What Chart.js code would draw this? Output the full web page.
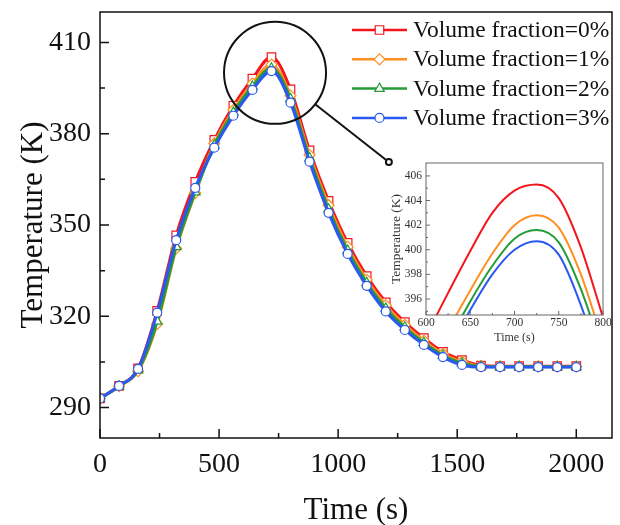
<!DOCTYPE html>
<html><head><meta charset="utf-8">
<script src="https://cdn.jsdelivr.net/npm/chart.js@4.4.1/dist/chart.umd.min.js"></script>
<style>
html,body{margin:0;padding:0;background:#fff;}
#wrap{position:relative;width:620px;height:525px;overflow:hidden;}
#main{position:absolute;left:0;top:0;}
#inset{position:absolute;left:380px;top:150px;}
</style></head><body>
<div id="wrap"><canvas id="main" width="620" height="525"></canvas><canvas id="inset" width="235" height="200"></canvas></div>
<script>
// ---- data ----
const seriesNames = ['Volume fraction=0%','Volume fraction=1%','Volume fraction=2%','Volume fraction=3%'];
const times = [0,80,160,240,320,400,480,560,640,720,800,880,960,1040,1120,1200,1280,1360,1440,1520,1600,1680,1760,1840,1920,2000];
const vf0 = [293.0,297.1,302.9,321.8,346.6,364.2,378.0,389.2,398.1,405.2,394.6,374.5,357.9,344.1,333.2,324.6,318.1,312.8,308.3,305.6,303.8,303.6,303.6,303.6,303.6,303.6];
const vf1 = [293.0,297.0,302.0,317.5,342.3,360.5,376.8,387.8,396.5,402.7,392.5,373.0,356.5,342.8,332.0,323.6,317.2,312.0,307.7,305.1,303.6,303.5,303.5,303.5,303.5,303.5];
const vf2 = [293.0,297.0,302.3,318.3,342.8,360.8,376.2,387.0,395.5,401.5,391.5,372.0,355.2,341.6,331.0,322.6,316.4,311.3,307.1,304.6,303.5,303.4,303.4,303.4,303.4,303.4];
const vf3 = [293.0,297.1,302.7,321.2,345.0,362.2,375.4,385.9,394.4,400.6,390.2,370.8,354.0,340.5,330.0,321.6,315.5,310.6,306.6,304.0,303.3,303.3,303.3,303.3,303.3,303.3];
const xTicks = [0,500,1000,1500,2000];
const xMinor = [250,750,1250,1750];
const yTicks = [290,320,350,380,410];
const yMinor = [305,335,365,395];

const insetTimes = [600,625,650,675,700,725,750,775,800];
const insetVf0 = [393.0,396.5,399.9,403.0,404.8,405.3,404.2,400.2,394.5];
const insetVf1 = [390.2,393.5,396.7,399.7,402.0,402.8,401.8,398.0,392.5];
const insetVf2 = [389.2,392.5,395.8,398.7,400.9,401.6,400.6,396.8,391.5];
const insetVf3 = [388.5,391.8,395.1,398.0,400.0,400.7,399.6,395.5,390.0];
const insetXTicks = [600,650,700,750,800];
const insetXMinor = [625,675,725,775];
const insetYTicks = [396,398,400,402,404,406];
const insetYMinor = [395,397,399,401,403,405];

// ---- styles ----
const colors = ['#f4161c','#ff8f21','#239b38','#2a58f0'];
const pStyles = ['rect','rectRot','triangle','circle'];
const pRadius = [6,5.5,5.5,4.5];
const FONT = "'Liberation Serif','Times New Roman',serif";
Chart.defaults.font.family = FONT;
Chart.defaults.color = '#111';

const mainValues = [vf0,vf1,vf2,vf3];
const insetValues = [insetVf0,insetVf1,insetVf2,insetVf3];

function toXY(xs, ys){ return xs.map((x,i)=>({x:x,y:ys[i]})); }
function noPad(s){ s.paddingTop=0; s.paddingBottom=0; s.paddingLeft=0; s.paddingRight=0; }

function inwardTicks(opts){
  return {
    id:'frameTicks',
    afterDatasetsDraw(chart){
      const {ctx, chartArea:a, scales:{x,y}} = chart;
      ctx.save();
      ctx.strokeStyle = opts.color; ctx.lineWidth = opts.lw;
      ctx.beginPath();
      opts.xMaj.forEach(v=>{const p=x.getPixelForValue(v); ctx.moveTo(p,a.bottom); ctx.lineTo(p,a.bottom-opts.maj);});
      opts.xMin.forEach(v=>{const p=x.getPixelForValue(v); ctx.moveTo(p,a.bottom); ctx.lineTo(p,a.bottom-opts.min);});
      opts.yMaj.forEach(v=>{const p=y.getPixelForValue(v); ctx.moveTo(a.left,p); ctx.lineTo(a.left+opts.maj,p);});
      opts.yMin.forEach(v=>{const p=y.getPixelForValue(v); ctx.moveTo(a.left,p); ctx.lineTo(a.left+opts.min,p);});
      ctx.stroke();
      ctx.strokeRect(a.left,a.top,a.right-a.left,a.bottom-a.top);
      ctx.restore();
    }
  };
}

const annotatePlugin = {
  id:'annot',
  afterDatasetsDraw(chart){
    const {ctx, scales:{x,y}} = chart;
    const cx = x.getPixelForValue(735), cy = y.getPixelForValue(400);
    const r = 51;
    const ex = x.getPixelForValue(1213), ey = y.getPixelForValue(370.7);
    const dx = ex-cx, dy = ey-cy, L = Math.hypot(dx,dy);
    ctx.save();
    ctx.strokeStyle = '#111'; ctx.lineWidth = 2;
    ctx.beginPath(); ctx.arc(cx,cy,r,0,Math.PI*2); ctx.stroke();
    ctx.beginPath(); ctx.moveTo(cx+dx/L*r, cy+dy/L*r); ctx.lineTo(ex-dx/L*3, ey-dy/L*3); ctx.stroke();
    ctx.beginPath(); ctx.arc(ex,ey,3,0,Math.PI*2); ctx.fillStyle='#fff'; ctx.fill(); ctx.stroke();
    ctx.restore();
  }
};

const legendPlugin = {
  id:'customLegend',
  afterDraw(chart){
    const {ctx, chartArea:a} = chart;
    ctx.save();
    const x0 = a.right-260, x1 = a.right-205, xm = (x0+x1)/2;
    chart.data.datasets.forEach((ds,i)=>{
      const yy = a.top + 18 + i*29.3;
      ctx.strokeStyle = ds.borderColor; ctx.lineWidth = 2.5;
      ctx.beginPath(); ctx.moveTo(x0,yy); ctx.lineTo(x1,yy); ctx.stroke();
      ctx.fillStyle = '#fff'; ctx.strokeStyle = ds.borderColor; ctx.lineWidth = 1.2;
      Chart.helpers.drawPoint(ctx,{pointStyle:ds.pointStyle,radius:ds.pointRadius,borderWidth:1.2,rotation:0},xm,yy);
      ctx.fillStyle = '#111'; ctx.font = '23.5px '+FONT; ctx.textBaseline='middle'; ctx.textAlign='left';
      ctx.fillText(seriesNames[i], x1+6, yy+1);
    });
    ctx.restore();
  }
};

new Chart(document.getElementById('main'),{
  type:'line',
  data:{datasets: mainValues.map((vals,i)=>({
    label:seriesNames[i], data:toXY(times,vals),
    borderColor:colors[i], backgroundColor:'#fff', borderWidth:3,
    pointStyle:pStyles[i], pointRadius:pRadius[i], pointBorderWidth:1.2,
    pointBackgroundColor:'#fff', pointBorderColor:colors[i],
    cubicInterpolationMode:'monotone', order:4-i, fill:false
  }))},
  options:{
    responsive:false, animation:false, devicePixelRatio:1,
    layout:{padding:{top:12,right:8,left:0,bottom:0}},
    plugins:{legend:{display:false},tooltip:{enabled:false}},
    scales:{
      x:{type:'linear',min:0,max:2150,
        afterBuildTicks:s=>{s.ticks=xTicks.map(v=>({value:v}));},
        afterFit:s=>{s.height=87; noPad(s);},
        grid:{display:false,drawTicks:false}, border:{display:false},
        ticks:{padding:10,font:{size:28},color:'#111',maxRotation:0,autoSkip:false,callback:v=>String(v)},
        title:{display:true,text:'Time (s)',font:{size:31,lineHeight:0.9},padding:{top:0,bottom:0},color:'#111'}},
      y:{type:'linear',min:280,max:420,
        afterBuildTicks:s=>{s.ticks=yTicks.map(v=>({value:v}));},
        afterFit:s=>{s.width=100; noPad(s);},
        grid:{display:false,drawTicks:false}, border:{display:false},
        ticks:{padding:9,font:{size:28},color:'#111',autoSkip:false,callback:v=>String(v)},
        title:{display:true,text:'Temperature (K)',font:{size:31},padding:{top:15,bottom:0},color:'#111'}}
    }
  },
  plugins:[inwardTicks({color:'#111',lw:1.5,maj:9,min:5,xMaj:xTicks,xMin:xMinor,yMaj:yTicks,yMin:yMinor}),annotatePlugin,legendPlugin]
});

new Chart(document.getElementById('inset'),{
  type:'line',
  data:{datasets: insetValues.map((vals,i)=>({
    label:seriesNames[i], data:toXY(insetTimes,vals),
    borderColor:colors[i], borderWidth:2, pointRadius:0,
    cubicInterpolationMode:'monotone', order:4-i, fill:false
  }))},
  options:{
    responsive:false, animation:false, devicePixelRatio:1,
    layout:{padding:{top:13,right:12,left:0,bottom:0}},
    plugins:{legend:{display:false},tooltip:{enabled:false}},
    scales:{
      x:{type:'linear',min:600,max:800,
        afterBuildTicks:s=>{s.ticks=insetXTicks.map(v=>({value:v}));},
        afterFit:s=>{s.height=35; noPad(s);},
        grid:{display:false,drawTicks:false}, border:{display:false},
        ticks:{padding:1,font:{size:11.5},color:'#333',maxRotation:0,autoSkip:false,callback:v=>String(v)},
        title:{display:true,text:'Time (s)',font:{size:12},padding:{top:0,bottom:5},color:'#333'}},
      y:{type:'linear',min:394.7,max:407.05,
        afterBuildTicks:s=>{s.ticks=insetYTicks.map(v=>({value:v}));},
        afterFit:s=>{s.width=46; noPad(s);},
        grid:{display:false,drawTicks:false}, border:{display:false},
        ticks:{padding:4,font:{size:11.5},color:'#333',autoSkip:false,callback:v=>String(v)},
        title:{display:true,text:'Temperature (K)',font:{size:13.5,lineHeight:1.1},padding:{top:9,bottom:0},color:'#333'}}
    }
  },
  plugins:[inwardTicks({color:'#666',lw:1,maj:4,min:2,xMaj:insetXTicks,xMin:insetXMinor,yMaj:insetYTicks,yMin:insetYMinor})]
});
</script>
</body></html>
